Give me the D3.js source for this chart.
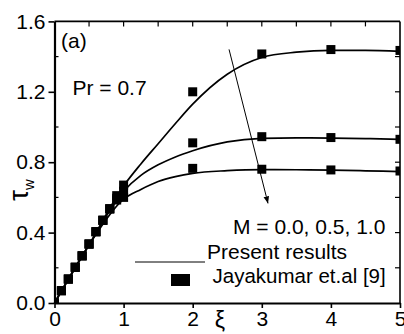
<!DOCTYPE html>
<html>
<head>
<meta charset="utf-8">
<script src="https://cdn.jsdelivr.net/npm/d3@7"></script>
<style>
  html, body { margin: 0; padding: 0; background: #fff; }
  text { font-family: "Liberation Sans", Arial, sans-serif; fill: #000; }
</style>
</head>
<body>
<div id="chart"></div>
<script>
// Present results (solid curves), one per magnetic parameter M
const xiLine = [0, 0.5, 1, 1.25, 1.5, 1.75, 2, 2.5, 3, 3.5, 4, 4.5, 5];
const tauLineM00 = [0, 0.33, 0.665, 0.79, 0.905, 1.02, 1.13, 1.30, 1.395, 1.425, 1.435, 1.435, 1.43];
const tauLineM05 = [0, 0.33, 0.635, 0.725, 0.785, 0.83, 0.865, 0.915, 0.935, 0.938, 0.937, 0.934, 0.93];
const tauLineM10 = [0, 0.33, 0.59, 0.645, 0.69, 0.718, 0.737, 0.752, 0.758, 0.757, 0.755, 0.751, 0.747];

// Jayakumar et.al [9] (square markers)
const xiExp = [0, 0.1, 0.2, 0.3, 0.4, 0.5, 0.6, 0.7, 0.8, 0.9, 1, 2, 3, 4, 5];
const tauExpM00 = [0, 0.07, 0.136, 0.203, 0.268, 0.335, 0.405, 0.47, 0.535, 0.61, 0.67, 1.20, 1.415, 1.44, 1.435];
const tauExpM05 = [0, 0.07, 0.136, 0.203, 0.268, 0.335, 0.405, 0.47, 0.535, 0.595, 0.635, 0.91, 0.945, 0.94, 0.93];
const tauExpM10 = [0, 0.07, 0.136, 0.203, 0.268, 0.335, 0.405, 0.47, 0.535, 0.585, 0.60, 0.765, 0.76, 0.756, 0.75];

// Axis ticks
const xTicks = [0, 1, 2, 3, 4, 5];
const yTicks = [0, 0.4, 0.8, 1.2, 1.6];
const yTickLabels = ["0.0", "0.4", "0.8", "1.2", "1.6"];

const width = 404;
const height = 334;
const fs = 21;

const x = d3.scaleLinear().domain([0, 5]).range([54.5, 400]);
const y = d3.scaleLinear().domain([0, 1.6]).range([303, 21.4]);

const svg = d3.select("#chart")
  .append("svg")
  .attr("width", width)
  .attr("height", height)
  .style("display", "block");

svg.append("clipPath").attr("id", "plotclip")
  .append("rect")
  .attr("x", x(0)).attr("y", y(1.6))
  .attr("width", x(5) - x(0)).attr("height", y(0) - y(1.6));

// frame: top and right thinner
svg.append("line").attr("x1", x(0)).attr("x2", x(5)).attr("y1", y(1.6)).attr("y2", y(1.6))
  .attr("stroke", "#000").attr("stroke-width", 1.6);
svg.append("line").attr("x1", x(5)).attr("x2", x(5)).attr("y1", y(1.6)).attr("y2", y(0))
  .attr("stroke", "#000").attr("stroke-width", 1.6);

// top ticks every 0.5 pointing inward
svg.append("g").selectAll("line")
  .data(d3.range(0.5, 5, 0.5))
  .join("line")
  .attr("x1", d => x(d)).attr("x2", d => x(d))
  .attr("y1", y(1.6)).attr("y2", y(1.6) + 5)
  .attr("stroke", "#000").attr("stroke-width", 1.2);

// right ticks every 0.2 pointing inward
svg.append("g").selectAll("line")
  .data(d3.range(0.2, 1.6, 0.2))
  .join("line")
  .attr("x1", x(5)).attr("x2", x(5) - 5)
  .attr("y1", d => y(d)).attr("y2", d => y(d))
  .attr("stroke", "#000").attr("stroke-width", 1.2);

// left minor ticks (inward)
svg.append("g").selectAll("line")
  .data([0.2, 0.6, 1.0, 1.4])
  .join("line")
  .attr("x1", x(0)).attr("x2", x(0) + 4)
  .attr("y1", d => y(d)).attr("y2", d => y(d))
  .attr("stroke", "#000").attr("stroke-width", 1.2);

// bottom axis
const xAxis = d3.axisBottom(x).tickValues(xTicks).tickFormat(d3.format("d")).tickSize(5).tickSizeOuter(0).tickPadding(3);
const gx = svg.append("g").attr("transform", `translate(0,${y(0)})`).call(xAxis);
gx.select(".domain").attr("stroke-width", 2.2);
gx.selectAll(".tick line").attr("stroke-width", 1.6);
gx.selectAll("text").attr("font-size", fs).attr("font-family", "Liberation Sans, Arial, sans-serif");

// left axis
const yAxis = d3.axisLeft(y).tickValues(yTicks).tickFormat((d, i) => yTickLabels[i]).tickSize(6).tickSizeOuter(0).tickPadding(3);
const gy = svg.append("g").attr("transform", `translate(${x(0)},0)`).call(yAxis);
gy.select(".domain").attr("stroke-width", 2.2);
gy.selectAll(".tick line").attr("stroke-width", 1.6);
gy.selectAll("text").attr("font-size", fs).attr("font-family", "Liberation Sans, Arial, sans-serif");

// curves
const line = d3.line()
  .x(d => x(d[0]))
  .y(d => y(d[1]))
  .curve(d3.curveMonotoneX);

[tauLineM00, tauLineM05, tauLineM10].forEach(vals => {
  svg.append("path")
    .datum(xiLine.map((v, i) => [v, vals[i]]))
    .attr("fill", "none")
    .attr("stroke", "#000")
    .attr("stroke-width", 1.7)
    .attr("d", line);
});

// markers
const ms = 9;
const markers = svg.append("g").attr("clip-path", "url(#plotclip)");
[tauExpM00, tauExpM05, tauExpM10].forEach(vals => {
  markers.append("g").selectAll("rect")
    .data(xiExp.map((v, i) => [v, vals[i]]))
    .join("rect")
    .attr("x", d => x(d[0]) - ms / 2)
    .attr("y", d => y(d[1]) - ms / 2)
    .attr("width", ms)
    .attr("height", ms)
    .attr("fill", "#000");
});

// arrow showing increasing M
svg.append("defs").append("marker")
  .attr("id", "arrowhead")
  .attr("viewBox", "0 0 10 10")
  .attr("refX", 10).attr("refY", 5)
  .attr("markerWidth", 7).attr("markerHeight", 7)
  .attr("markerUnits", "userSpaceOnUse")
  .attr("orient", "auto")
  .append("path")
  .attr("d", "M0,1 L10,5 L0,9 Z")
  .attr("fill", "#000");

svg.append("line")
  .attr("x1", x(2.526)).attr("y1", y(1.441))
  .attr("x2", x(3.09)).attr("y2", y(0.566))
  .attr("stroke", "#000").attr("stroke-width", 1)
  .attr("marker-end", "url(#arrowhead)");

// annotations
svg.append("text").attr("x", 61).attr("y", 47.5).attr("font-size", fs).text("(a)");
svg.append("text").attr("x", 72.5).attr("y", 95).attr("font-size", fs).text("Pr = 0.7");
svg.append("text").attr("x", 233).attr("y", 234).attr("font-size", fs).text("M = 0.0, 0.5, 1.0");

// legend
svg.append("line").attr("x1", 135).attr("x2", 205).attr("y1", 262).attr("y2", 262)
  .attr("stroke", "#000").attr("stroke-width", 1);
svg.append("text").attr("x", 207).attr("y", 259).attr("font-size", fs).text("Present results");
svg.append("rect").attr("x", 171).attr("y", 274).attr("width", 19).attr("height", 12).attr("fill", "#000");
svg.append("text").attr("x", 212.5).attr("y", 283).attr("font-size", 20.5).text("Jayakumar et.al [9]");

// axis titles
svg.append("text").attr("x", 220).attr("y", 328).attr("font-size", 23).attr("text-anchor", "middle").text("ξ");

const yt = svg.append("text")
  .attr("transform", "translate(28,190) rotate(-90)")
  .attr("text-anchor", "middle")
  .attr("font-size", 27);
yt.append("tspan").text("τ");
yt.append("tspan").attr("font-size", 15).attr("dy", 6).text("w");
</script>
</body>
</html>
